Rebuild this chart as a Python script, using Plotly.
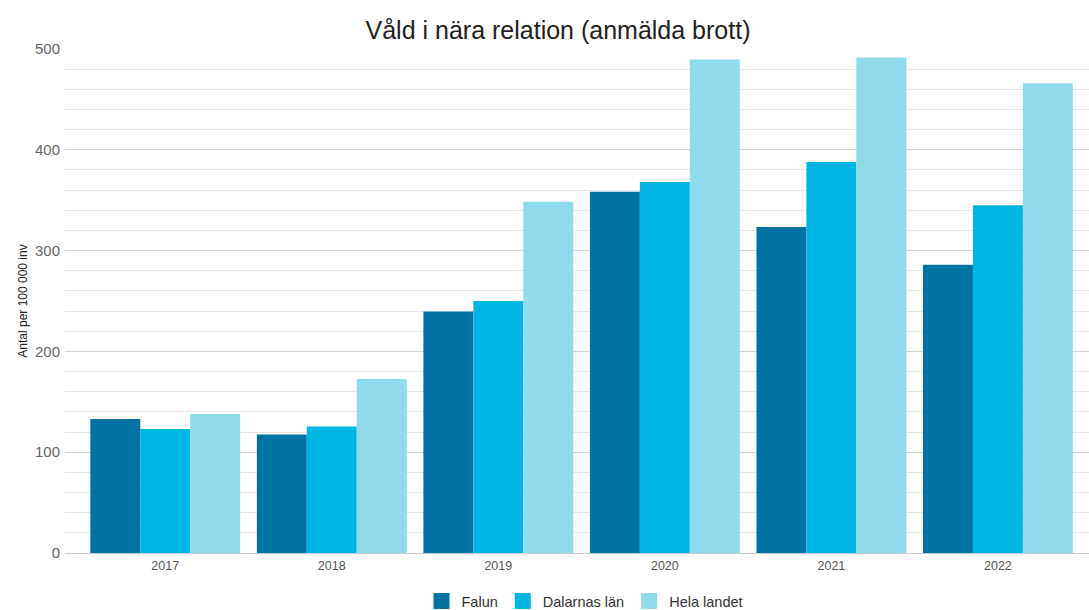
import plotly.graph_objects as go

years = ["2017", "2018", "2019", "2020", "2021", "2022"]
falun = [133, 117.5, 239.5, 358.5, 323.5, 286]
dalarna = [123, 125.5, 250, 368, 388, 345]
hela = [138, 172.5, 348.5, 489.5, 491.5, 466]

series = [
    ("Falun", falun, "#0073a2"),
    ("Dalarnas län", dalarna, "#00b5e2"),
    ("Hela landet", hela, "#8fdaeb"),
]

fig = go.Figure()
for name, vals, col in series:
    fig.add_trace(go.Bar(x=years, y=vals, name=name, marker_color=col,
                         marker_line_width=0, showlegend=False, legendgroup=name))
for name, vals, col in series:
    fig.add_trace(go.Scatter(x=[None], y=[None], mode="markers", name=name,
                             legendgroup=name,
                             marker=dict(symbol="square", size=16, color=col)))

font = "Liberation Sans, Arial, sans-serif"
fig.update_layout(
    width=1089, height=610,
    margin=dict(l=65, r=0, t=49, b=57, autoexpand=False),
    paper_bgcolor="white", plot_bgcolor="white",
    barmode="group", bargap=0.1, bargroupgap=0,
    font=dict(family=font, color="#555555", size=12),
    title=dict(text="Våld i nära relation (anmälda brott)", x=558/1089, xref="container",
               y=1-30/610, yref="container", xanchor="center", yanchor="middle",
               font=dict(size=25, color="#222222", family=font)),
    legend=dict(orientation="h", x=585/1089, xref="container", xanchor="center",
                y=1-601/610, yref="container", yanchor="middle",
                font=dict(size=14.5, color="#333333"), itemwidth=30, traceorder="normal"),
    xaxis=dict(range=[-0.602, 5.547], showgrid=False, showline=False, ticks="",
               ticklabelstandoff=3,
               tickfont=dict(size=12.5, color="#555555"), fixedrange=True),
    yaxis=dict(range=[0, 500], dtick=100, showgrid=True, gridcolor="#d4d4d4", gridwidth=1,
               zeroline=True, zerolinecolor="#cccccc", zerolinewidth=1,
               minor=dict(dtick=20, showgrid=True, gridcolor="#e6e6e6", gridwidth=1),
               tickfont=dict(size=15, color="#666666"), ticks="", ticklabelstandoff=4,
               title=dict(text="Antal per 100 000 inv", font=dict(size=12, color="#222222"), standoff=4),
               automargin=False, fixedrange=True),
)

fig.write_html("out.html", config={"displayModeBar": False},
               post_script="document.body.style.margin='0';document.body.style.padding='0';")
